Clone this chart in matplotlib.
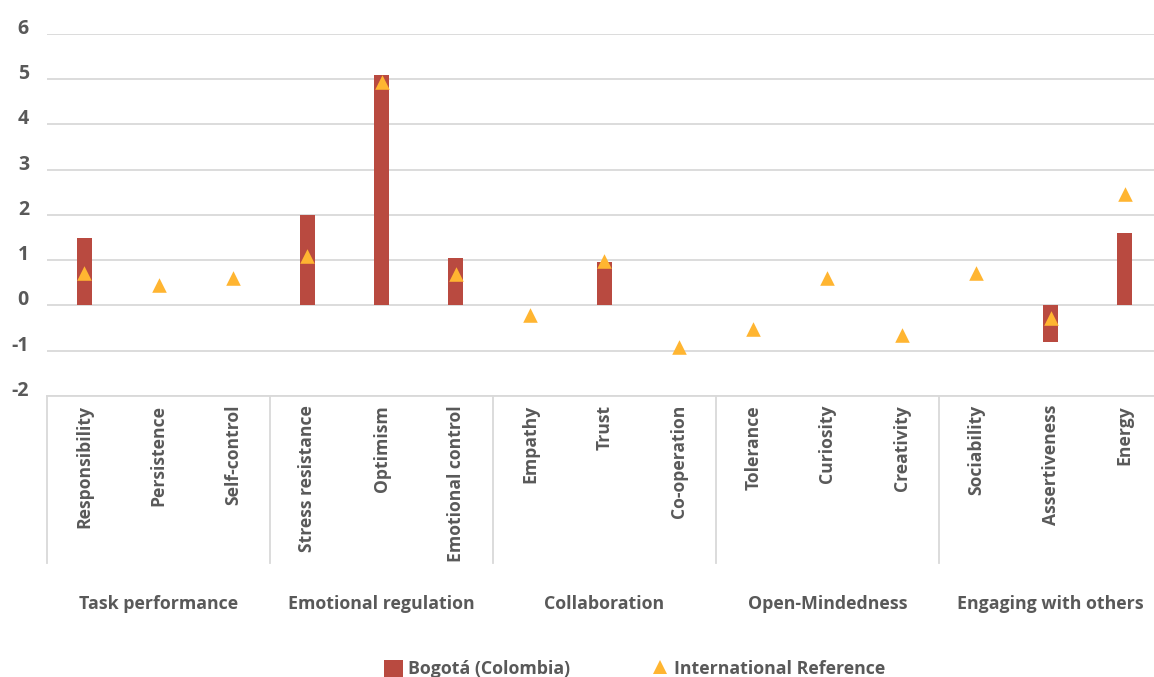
import matplotlib
matplotlib.use("Agg")
import matplotlib.pyplot as plt
from matplotlib.patches import Patch
from matplotlib.lines import Line2D
import numpy as np

plt.rcParams['font.family'] = ['Open Sans', 'DejaVu Sans']

groups = ['Task performance', 'Emotional regulation', 'Collaboration',
          'Open-Mindedness', 'Engaging with others']
skills = ['Responsibility', 'Persistence', 'Self-control',
          'Stress resistance', 'Optimism', 'Emotional control',
          'Empathy', 'Trust', 'Co-operation',
          'Tolerance', 'Curiosity', 'Creativity',
          'Sociability', 'Assertiveness', 'Energy']
bogota = [1.5, 0, 0, 2.0, 5.09, 1.05, 0, 0.97, 0, 0, 0, 0, 0, -0.8, 1.6]
intl_ref = [0.72, 0.45, 0.6, 1.09, 4.95, 0.7, -0.2, 0.98, -0.92,
            -0.52, 0.6, -0.65, 0.72, -0.27, 2.46]
yticks = [-2, -1, 0, 1, 2, 3, 4, 5, 6]

W, H = 1154, 677
bar_color = '#B94A40'
tri_color = '#FFB531'
text_color = '#595959'
grid_color = '#D9D9D9'

fig = plt.figure(figsize=(W / 100, H / 100), dpi=100)
ax_l, ax_r, ax_t, ax_b = 47, 1162, 34, 396
ax = fig.add_axes([ax_l / W, 1 - ax_b / H, (ax_r - ax_l) / W, (ax_b - ax_t) / H])

x = np.arange(len(skills))
ax.bar(x, bogota, width=0.2, color=bar_color, zorder=2)
ax.scatter(x, intl_ref, marker='^', s=110, color=tri_color, zorder=3, linewidths=0)

ax.set_xlim(-0.5, len(skills) - 0.5)
ax.set_ylim(-2, 6)
ax.set_yticks(yticks)
ax.set_yticklabels([str(v) for v in yticks], fontsize=14, fontweight='bold',
                   color=text_color)
for lbl in ax.get_yticklabels():
    lbl.set_verticalalignment('baseline')
ax.tick_params(axis='y', length=0, pad=13)
ax.set_xticks([])
ax.grid(axis='y', color=grid_color, linewidth=1.3, zorder=0)
ax.set_axisbelow(True)
for s in ['top', 'right', 'left']:
    ax.spines[s].set_visible(False)
ax.spines['bottom'].set_color(grid_color)
ax.spines['bottom'].set_linewidth(1.3)

# category labels and group separators, in data x / figure-pixel y
trans = ax.get_xaxis_transform()
px = lambda ypix: (ax_b - ypix) / (ax_b - ax_t)  # y pixel -> axes fraction
for i, name in enumerate(skills):
    ax.text(i, px(405), name, transform=trans, rotation=90, ha='center', va='top',
            fontsize=12.6, fontweight='bold', color=text_color, clip_on=False)
n_per = 3
for g in range(len(groups) + 1):
    xs = g * n_per - 0.5
    ax.plot([xs, xs], [0, px(563)], transform=trans, color=grid_color,
            linewidth=1.3, clip_on=False)
for g, name in enumerate(groups):
    ax.text(g * n_per + 1, px(604), name, transform=trans, ha='center', va='center',
            fontsize=12.8, fontweight='bold', color=text_color, clip_on=False)

handles = [
    Patch(facecolor=bar_color, edgecolor='none', label='Bogotá (Colombia)'),
    Line2D([0], [0], marker='^', linestyle='none', markersize=10, color=tri_color,
           markeredgewidth=0, label='International Reference'),
]
fig.legend(handles=handles, loc='center', bbox_to_anchor=(635 / W, 1 - 669 / H),
           ncol=2, frameon=False,
           prop={'weight': 'bold', 'size': 12.8}, labelcolor=text_color,
           handlelength=1.05, handleheight=1.1, handletextpad=0.3, columnspacing=4.5)

fig.savefig('out.png', dpi=100)
